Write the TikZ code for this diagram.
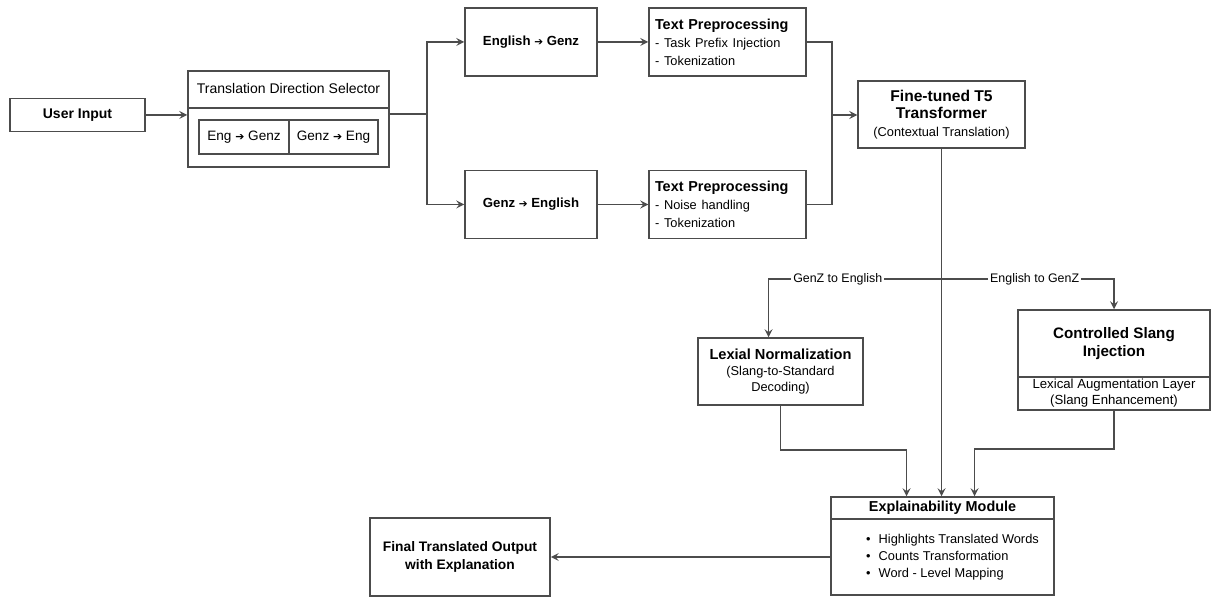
\documentclass[tikz,border=0pt]{standalone}
\usepackage{fontspec}
\setmainfont{Liberation Sans}
\newfontfamily\arrowfont{DejaVu Sans}
\colorlet{linegray}{black!70}
\newcommand{\subtxt}[1]{{\normalfont\fontsize{6.4}{7.6}\selectfont #1}}
\newcommand{\rarr}{{\arrowfont\scalebox{0.8}{➔}}}

\begin{document}
\begin{tikzpicture}[>=stealth, x=0.5pt, y=-0.5pt,
    box/.style={draw=linegray, line width=0.75pt, align=center, inner sep=1pt,
      font=\fontsize{7}{9}\selectfont\bfseries},
    conn/.style={draw=linegray, line width=0.75pt},
    lbl/.style={fill=white, inner sep=1pt, font=\fontsize{6.2}{7}\selectfont}]
  \useasboundingbox (0,0) rectangle (1213,597);

  % input and direction selector
  \node[box, minimum width=67.5pt, minimum height=16.5pt] (userinput) at (77.5,115) {User Input};
  \node[box, minimum width=100.5pt, minimum height=48pt] (selector) at (288.5,119) {};
  \node[font=\fontsize{7}{8}\selectfont] (selhead) at (288.5,89) {Translation Direction Selector};
  \draw[conn] ([yshift=-19pt]selector.north west) -- ([yshift=-19pt]selector.north east);
  \node[box, font=\fontsize{6.8}{8}\selectfont, minimum width=45pt, minimum height=17pt] (engsel) at (244,137) {Eng \rarr{} Genz};
  \node[box, font=\fontsize{6.8}{8}\selectfont, minimum width=44.5pt, minimum height=17pt] (genzsel) at (333.5,137) {Genz \rarr{} Eng};

  % the two directions
  \node[box, font=\fontsize{6.6}{8}\selectfont\bfseries, minimum width=66pt, minimum height=34pt] (en2gz) at (531,42) {English \rarr{} Genz};
  \node[box, font=\fontsize{6.6}{8}\selectfont\bfseries, minimum width=66pt, minimum height=34pt] (gz2en) at (531,204.5) {Genz \rarr{} English};
  \node[box, align=left, text width=72.5pt, minimum height=34pt, inner sep=3pt, font=\fontsize{7.2}{9}\selectfont\bfseries] (prepA) at (727.5,42)
    {Text Preprocessing\\\subtxt{- Task Prefix Injection}\\\subtxt{- Tokenization}};
  \node[box, align=left, text width=72.5pt, minimum height=34pt, inner sep=3pt, font=\fontsize{7.2}{9}\selectfont\bfseries] (prepB) at (727.5,204.5)
    {Text Preprocessing\\\subtxt{- Noise handling}\\\subtxt{- Tokenization}};

  \node[box, font=\fontsize{7.8}{8.75}\selectfont\bfseries, minimum width=83.5pt, minimum height=33.5pt] (t5) at (941.5,114.5)
    {Fine-tuned T5\\Transformer\\\subtxt{(Contextual Translation)}};

  % slang handling
  \node[box, font=\fontsize{7.3}{8}\selectfont\bfseries, minimum width=82.5pt, minimum height=33.5pt] (lexnorm) at (780.5,371.5)
    {Lexial Normalization\\\subtxt{(Slang-to-Standard}\\\subtxt{Decoding)}};
  \node[box, font=\fontsize{7.6}{9}\selectfont\bfseries, minimum width=96pt, minimum height=33.5pt] (slang) at (1114,343.5)
    {Controlled Slang\\Injection};
  \node[box, font=\fontsize{6.6}{8}\selectfont\mdseries, minimum width=96pt, minimum height=16.5pt] (slangaug) at (1114,393.5)
    {Lexical Augmentation Layer\\(Slang Enhancement)};

  % explanation and output
  \node[box, font=\fontsize{7.2}{8}\selectfont\bfseries, minimum width=111.5pt, minimum height=11pt] (explain) at (942.5,508) {Explainability Module};
  \node[box, align=left, font=\fontsize{6.4}{8.5}\selectfont\mdseries, minimum width=111.5pt, minimum height=38pt] (explainbody) at (942.5,557)
    {\hspace{10pt}\textbullet\hspace{4pt}Highlights Translated Words\\\hspace{10pt}\textbullet\hspace{4pt}Counts Transformation\\\hspace{10pt}\textbullet\hspace{4pt}Word - Level Mapping};
  \node[box, font=\fontsize{6.9}{9}\selectfont\bfseries, minimum width=90pt, minimum height=39pt] (final) at (460,557)
    {Final Translated Output\\with Explanation};

  % connectors
  \coordinate (fork) at (427,114);
  \coordinate (merge) at (832,115);
  \coordinate (split) at (941.5,279);
  \coordinate (lexbend) at (780.5,450);
  \coordinate (slangbend) at (1114,449);

  \draw[conn,->] (userinput.east) -- (userinput.east -| selector.west);
  \draw[conn] (selector.east |- fork) -- (fork);
  \draw[conn,->] (fork) |- (en2gz.west);
  \draw[conn,->] (fork) |- (gz2en.west);
  \draw[conn,->] (en2gz) -- (prepA);
  \draw[conn,->] (gz2en) -- (prepB);
  \draw[conn] (prepA.east) -| (merge);
  \draw[conn] (prepB.east) -| (merge);
  \draw[conn,->] (merge) -- (t5.west |- merge);
  \draw[conn,->] (t5.south) -- (t5.south |- explain.north);
  \draw[conn,->] (split) -| node[lbl, pos=0.3] {GenZ to English} ([xshift=-6pt]lexnorm.north);
  \draw[conn,->] (split) -| node[lbl, pos=0.27] {English to GenZ} (slang.north);
  \draw[conn,->] (lexnorm.south) -- (lexbend) -| ([xshift=-18pt]explain.north);
  \draw[conn,->] (slangaug.south) -- (slangbend) -| ([xshift=16pt]explain.north);
  \draw[conn,->] (explainbody.west) -- (final.east);
\end{tikzpicture}
\end{document}
